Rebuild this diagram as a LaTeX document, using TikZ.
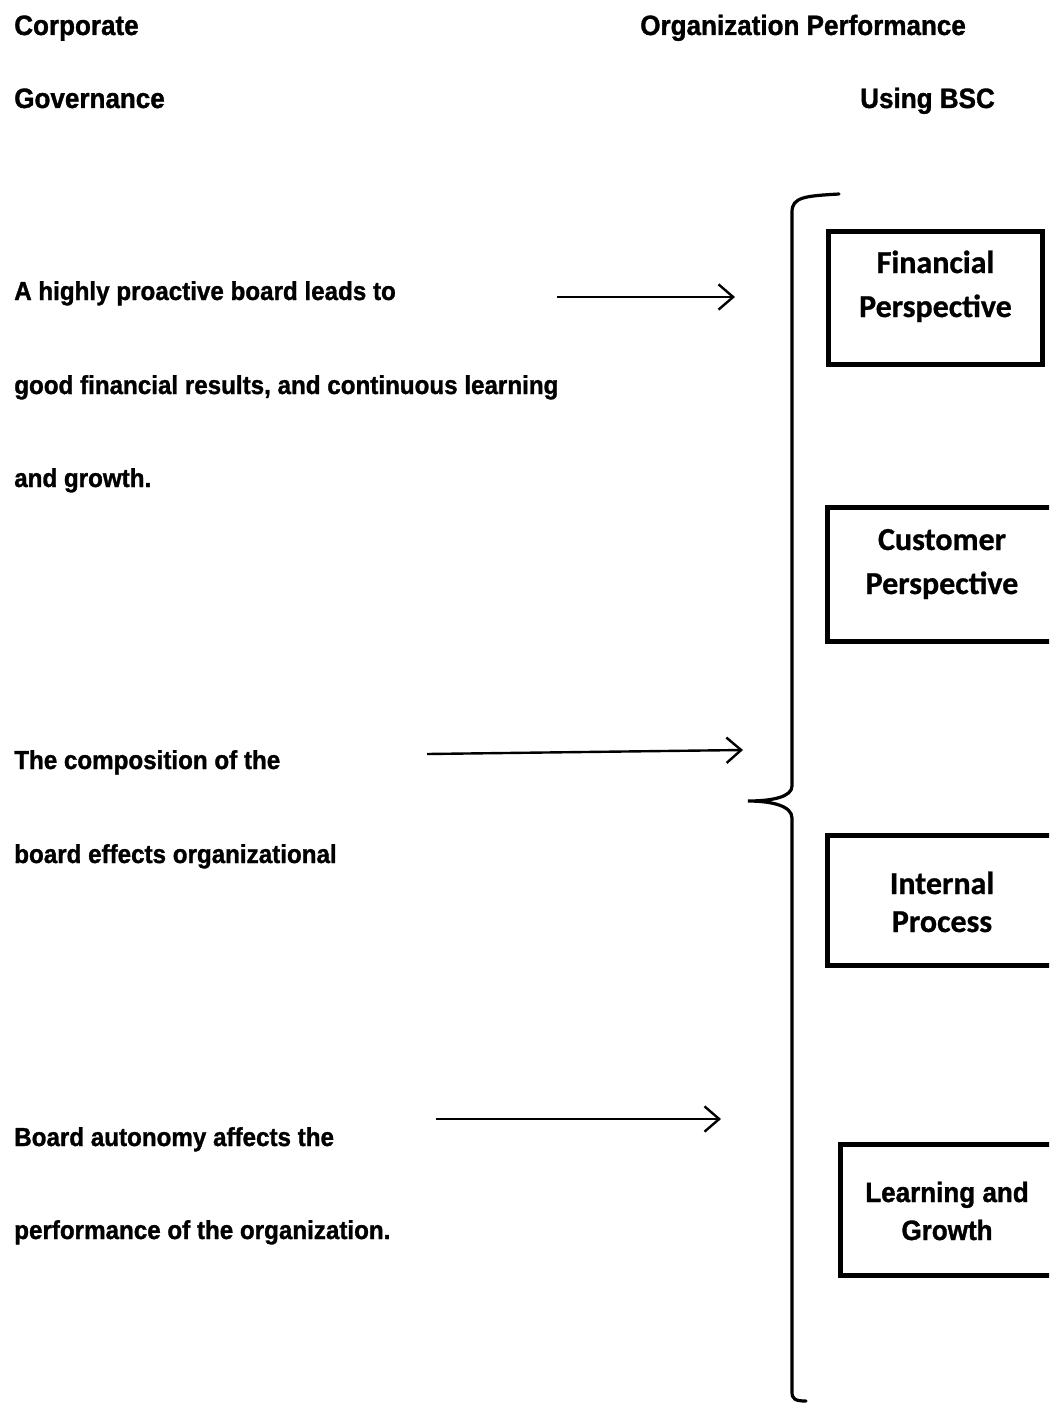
\documentclass[tikz,border=0pt]{standalone}
\usepackage{fontspec}
\setmainfont[FakeStretch=0.93, BoldFeatures={FakeBold=1.2}]{Liberation Sans}
\newfontfamily\boxfont[BoldFeatures={FakeBold=0.8}]{Carlito}
\usetikzlibrary{arrows.meta}
\tikzset{
  lbl/.style={anchor=base west, inner sep=0pt, font=\fontsize{19.5}{22}\selectfont\bfseries},
  hdr/.style={anchor=base west, inner sep=0pt, font=\fontsize{21}{24}\selectfont\bfseries},
  btxt/.style={anchor=base, inner sep=0pt, font=\boxfont\fontsize{24}{28}\selectfont\bfseries},
  atxt/.style={anchor=base, inner sep=0pt, font=\fontsize{21}{24}\selectfont\bfseries},
  bx/.style={draw, line width=3.75pt, inner sep=0pt, outer sep=0pt},
  arr/.style={line width=1.8pt, -{Straight Barb[length=11pt,width=19pt,line width=1.8pt]}},
  brc/.style={line width=2.4pt, line cap=round}
}
\begin{document}
\begin{tikzpicture}[x=0.75pt,y=-0.75pt]
\useasboundingbox (0,0) rectangle (1049,1405);
\clip (0,0) rectangle (1049,1405);
% headers
\node[hdr] (h1) at (14,35) {Corporate};
\node[hdr] (h2) at (14,108) {Governance};
\node[hdr] (h3) at (640,35) {Organization Performance};
\node[hdr] (h4) at (860,108) {Using BSC};
% left texts
\node[lbl] (t1) at (14,300) {A highly proactive board leads to};
\node[lbl] (t2) at (14,394) {good financial results, and continuous learning};
\node[lbl] (t3) at (14,487) {and growth.};
\node[lbl] (t4) at (14,769) {The composition of the};
\node[lbl] (t5) at (14,863) {board effects organizational};
\node[lbl] (t6) at (14,1146) {Board autonomy affects the};
\node[lbl] (t7) at (14,1239) {performance of the organization.};
% arrows
\coordinate (a1s) at (557,297);
\coordinate (a1e) at (735,297);
\coordinate (a2s) at (427,754);
\coordinate (a2e) at (743,750);
\coordinate (a3s) at (436,1119);
\coordinate (a3e) at (721,1119);
\draw[arr] (a1s) -- (a1e);
\draw[arr] (a2s) -- (a2e);
\draw[arr] (a3s) -- (a3e);
% brace
\coordinate (bt) at (839,194);
\coordinate (bm) at (748,801);
\coordinate (bb) at (806,1401);
\draw[brc] (bt) .. controls (805,196) and (792,197) .. (792,212) -- (792,786)
  .. controls (792,797) and (772,801) .. (bm)
  .. controls (772,801) and (792,806) .. (792,818) -- (792,1392)
  .. controls (792,1399) and (795,1401) .. (bb);
% boxes
\node[bx, minimum width=214*0.75pt, minimum height=133*0.75pt] (b1) at (935.5,298) {};
\node[bx, minimum width=237.5*0.75pt, minimum height=134*0.75pt] (b2) at (946,574.5) {};
\node[bx, minimum width=237.5*0.75pt, minimum height=130*0.75pt] (b3) at (946,900.5) {};
\node[bx, minimum width=224.5*0.75pt, minimum height=131*0.75pt] (b4) at (952.75,1210) {};
% box texts
\node[btxt] (f1) at (935.5,273) {Financial};
\node[btxt] (f2) at (935.5,317) {Perspective};
\node[btxt] (c1) at (942,550) {Customer};
\node[btxt] (c2) at (942,594) {Perspective};
\node[btxt] (i1) at (942,894) {Internal};
\node[btxt] (i2) at (942,932) {Process};
\node[atxt] (l1) at (947,1202) {Learning and};
\node[atxt] (l2) at (947,1240) {Growth};
\end{tikzpicture}
\end{document}
